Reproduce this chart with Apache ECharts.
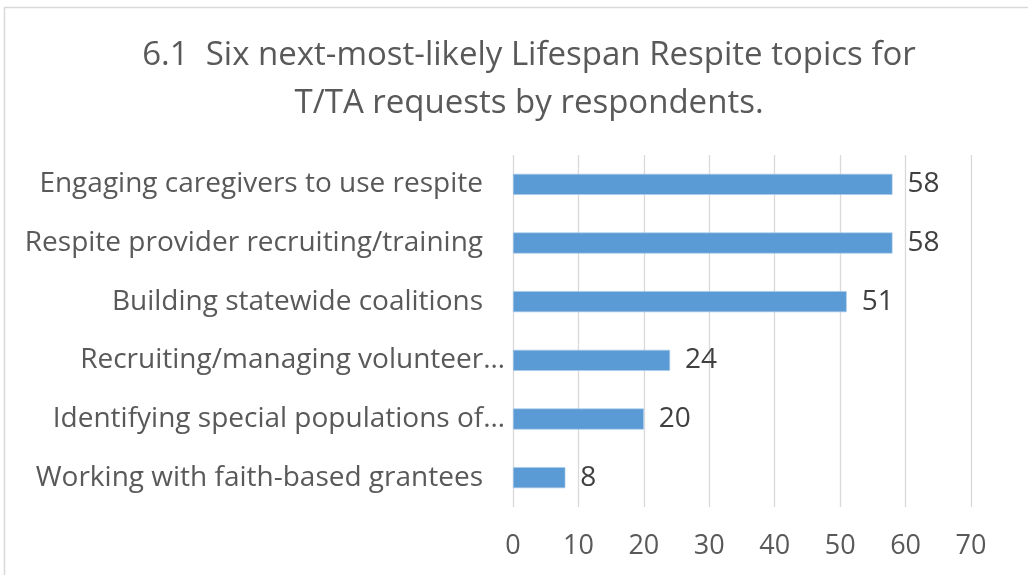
<!DOCTYPE html>
<html><head><meta charset="utf-8">
<script src="https://cdn.jsdelivr.net/npm/echarts@6/dist/echarts.min.js"></script>
<style>html,body{margin:0;padding:0;background:#fff}#c{width:1028px;height:575px}</style>
</head><body><div id="c"></div>
<script>
const titleLines = ["6.1  Six next-most-likely Lifespan Respite topics for", "T/TA requests by respondents."];
const categories = [
  "Engaging caregivers to use respite",
  "Respite provider recruiting/training",
  "Building statewide coalitions",
  "Recruiting/managing volunteer…",
  "Identifying special populations of…",
  "Working with faith-based grantees"
];
const values = [58, 58, 51, 24, 20, 8];
const xTicks = [0, 10, 20, 30, 40, 50, 60, 70];

const chart = echarts.init(document.getElementById('c'), null, {renderer: 'canvas'});
chart.setOption({
  animation: false,
  backgroundColor: '#fff',
  graphic: [{
    type: 'rect', shape: {x: 4.5, y: 7.5, width: 1030, height: 580},
    style: {fill: 'none', stroke: '#d9d9d9', lineWidth: 1.5}, silent: true
  }],
  title: {
    text: titleLines.join('\n'),
    left: 524, top: 27, textAlign: 'center',
    textStyle: {fontFamily: 'Open Sans', fontWeight: 'normal', fontSize: 33, color: '#595959', lineHeight: 48}
  },
  grid: {left: 513, right: 57, top: 155, bottom: 68, containLabel: false},
  xAxis: {
    type: 'value', min: 0, max: 70, interval: 10,
    axisLine: {show: false}, axisTick: {show: false},
    splitLine: {show: true, lineStyle: {color: '#d9d9d9', width: 1.3}},
    axisLabel: {margin: 26, fontFamily: 'Open Sans', fontSize: 27, color: '#595959',
      formatter: v => xTicks.includes(v) ? String(v) : ''}
  },
  yAxis: {
    type: 'category', data: categories, inverse: true,
    axisLine: {show: false}, axisTick: {show: false},
    axisLabel: {
      margin: 8, fontFamily: 'Open Sans', fontSize: 28, color: '#595959',
      formatter: v => v.endsWith('…') ? '{t|' + v + '}' : '{p|' + v + '}',
      rich: {
        t: {fontFamily: 'Open Sans', fontSize: 28, color: '#595959'},
        p: {fontFamily: 'Open Sans', fontSize: 28, color: '#595959', padding: [0, 22, 0, 0]}
      }
    }
  },
  series: [{
    type: 'bar', data: values, barWidth: 21,
    itemStyle: {color: '#5b9bd5', borderColor: '#a9c9ea', borderWidth: 0.6},
    label: {show: true, position: 'right', distance: 15, fontFamily: 'Open Sans', fontSize: 28, color: '#404040'}
  }]
});
</script></body></html>
